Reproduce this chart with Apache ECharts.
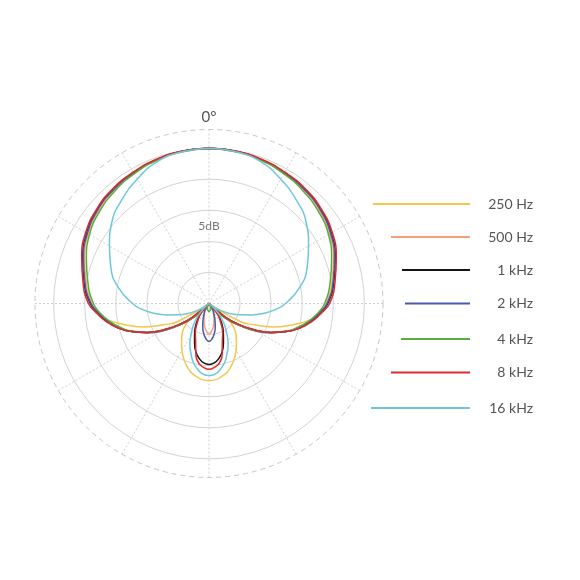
<!DOCTYPE html>
<html>
<head>
<meta charset="utf-8">
<script src="https://cdn.jsdelivr.net/npm/echarts@6/dist/echarts.min.js"></script>
<style>html,body{margin:0;padding:0;background:#fff}#chart{width:580px;height:580px}</style>
</head>
<body>
<div id="chart"></div>
<script>
// Angles (degrees, clockwise from 0° at top)
const angles = [0,10,20,30,40,50,60,70,80,90,95,100,105,110,115,120,125,130,135,140,145,150,155,160,165,170,175,180,
  185,190,195,200,205,210,215,220,225,230,235,240,245,250,255,260,265,270,280,290,300,310,320,330,340,350,360];

const seriesNames = ['250 Hz','500 Hz','1 kHz','2 kHz','4 kHz','8 kHz','16 kHz'];

// Relative level in dB (floor -25 dB at centre)
const hz250 = [0,-0.2,-0.4,-0.8,-1.2,-1.8,-2.6,-3.7,-4.9,-6.1,-6.8,-8.9,-11.5,-14.0,-16.9,-19.2,-25,-21.0,-19.2,-18.2,-17.3,-16.3,-15.3,-14.4,-13.6,-13.1,-12.7,-12.6,
  -12.7,-13.1,-13.6,-14.4,-15.3,-16.3,-17.3,-18.2,-19.2,-21.0,-25,-19.2,-16.9,-14.0,-11.5,-8.9,-6.8,-6.1,-4.9,-3.7,-2.6,-1.8,-1.2,-0.8,-0.4,-0.2,0];
const hz500 = [0,-0.1,-0.4,-0.7,-1.1,-1.7,-2.5,-3.6,-4.8,-6.1,-7.3,-8.6,-10.0,-11.8,-13.9,-16.1,-18.6,-20.8,-22.7,-24.2,-25,-23.9,-23.4,-22.7,-21.9,-21.1,-20.5,-20.1,
  -20.5,-21.1,-21.9,-22.7,-23.4,-23.9,-25,-24.2,-22.7,-20.8,-18.6,-16.1,-13.9,-11.8,-10.0,-8.6,-7.3,-6.1,-4.8,-3.6,-2.5,-1.7,-1.1,-0.7,-0.4,-0.1,0];
const khz1 = [0,-0.1,-0.4,-0.7,-1.0,-1.5,-2.3,-3.4,-4.6,-5.9,-7.1,-8.4,-9.9,-11.8,-14.0,-16.5,-19.0,-21.6,-25,-22.9,-21.8,-20.6,-19.5,-18.2,-16.9,-16.0,-15.4,-15.2,
  -15.4,-16.0,-16.9,-18.2,-19.5,-20.6,-21.8,-22.9,-25,-21.6,-19.0,-16.5,-14.0,-11.8,-9.9,-8.4,-7.1,-5.9,-4.6,-3.4,-2.3,-1.5,-1.0,-0.7,-0.4,-0.1,0];
const khz2 = [0,-0.1,-0.4,-0.7,-1.1,-1.6,-2.4,-3.5,-4.7,-6.0,-7.2,-8.5,-10.0,-11.8,-13.9,-16.1,-18.6,-20.8,-22.7,-24.2,-25,-23.7,-23.1,-22.2,-21.1,-20.1,-19.3,-18.9,
  -19.3,-20.1,-21.1,-22.2,-23.1,-23.7,-25,-24.2,-22.7,-20.8,-18.6,-16.1,-13.9,-11.8,-10.0,-8.5,-7.2,-6.0,-4.7,-3.5,-2.4,-1.6,-1.1,-0.7,-0.4,-0.1,0];
const khz4 = [0,-0.2,-0.5,-0.9,-1.4,-2.0,-2.8,-4.0,-5.2,-6.4,-7.4,-8.7,-10.2,-11.9,-14.0,-16.3,-18.7,-21.0,-22.9,-24.2,-25,-24.7,-24.5,-24.3,-24.0,-23.9,-23.8,-23.7,
  -23.8,-23.9,-24.0,-24.3,-24.5,-24.7,-25,-24.2,-22.9,-21.0,-18.7,-16.3,-14.0,-11.9,-10.2,-8.7,-7.4,-6.4,-5.2,-4.0,-2.8,-2.0,-1.4,-0.9,-0.5,-0.2,0];
const khz8 = [0,-0.1,-0.3,-0.6,-0.9,-1.4,-2.1,-3.2,-4.4,-5.6,-6.9,-8.2,-9.8,-11.8,-14.0,-16.5,-19.0,-21.5,-25,-23.1,-22.1,-21.0,-19.8,-18.7,-16.8,-15.3,-14.7,-14.4,
  -14.7,-15.3,-16.8,-18.7,-19.8,-21.0,-22.1,-23.1,-25,-21.5,-19.0,-16.5,-14.0,-11.8,-9.8,-8.2,-6.9,-5.6,-4.4,-3.2,-2.1,-1.4,-0.9,-0.6,-0.3,-0.1,0];
const khz16 = [0,-0.2,-0.7,-1.9,-3.2,-4.6,-6.5,-8.2,-10.2,-12.7,-14.2,-16.0,-17.9,-19.7,-21.1,-22.6,-23.6,-25,-23.2,-21.8,-20.5,-19.2,-17.7,-16.5,-15.2,-14.3,-13.6,-13.4,
  -13.6,-14.3,-15.2,-16.5,-17.7,-19.2,-20.5,-21.8,-23.2,-25,-23.6,-22.6,-21.1,-19.7,-17.9,-16.0,-14.2,-12.7,-10.2,-8.2,-6.5,-4.6,-3.2,-1.9,-0.7,-0.2,0];

const seriesValues = [hz250, hz500, khz1, khz2, khz4, khz8, khz16];
const seriesColors = ['#f3c64e','#f39f7c','#151515','#4c5aae','#5aad3b','#de2a2c','#6ec7da'];

// Scale annotation
const scaleLabel = '5dB';
const scaleLabelLevel = -12.5;
const topLabel = '0°';

// Layout (legend positions)
const legendCenterY = [204, 237, 270, 303.5, 339, 372.5, 408];
const legendLineStart = [372, 390, 401, 404, 400, 390, 370];
const legendLineEnd = 469;

const textColor = '#555';
const fontFamily = 'Lato, "Open Sans", sans-serif';

const chart = echarts.init(document.getElementById('chart'), null, {renderer: 'canvas'});

const lineSeries = seriesNames.map((name, i) => ({
  name: name,
  type: 'line',
  coordinateSystem: 'polar',
  data: seriesValues[i].map((v, j) => [v, angles[j]]),
  smooth: 0.5,
  symbol: 'none',
  showSymbol: false,
  clip: false,
  lineStyle: {color: seriesColors[i], width: 1.5},
  itemStyle: {color: seriesColors[i]},
  silent: true,
  z: 3 + i
}));

lineSeries.push({
  type: 'scatter',
  coordinateSystem: 'polar',
  data: [[scaleLabelLevel, 0]],
  symbolSize: 0,
  silent: true,
  z: 20,
  label: {
    show: true,
    position: 'inside',
    formatter: scaleLabel,
    color: textColor,
    fontSize: 12,
    fontFamily: fontFamily,
    backgroundColor: '#fff',
    padding: [1, 2]
  }
});

const legends = seriesNames.map((name, i) => ({
  data: [name],
  left: legendLineStart[i],
  top: legendCenterY[i] - 7,
  itemWidth: legendLineEnd - legendLineStart[i],
  itemHeight: 14,
  padding: 0,
  selectedMode: false,
  itemStyle: {opacity: 0},
  formatter: n => '{t|' + n + '}',
  textStyle: {
    color: textColor,
    fontFamily: fontFamily,
    fontSize: 14,
    rich: {t: {width: 58, align: 'right', color: textColor, fontFamily: fontFamily, fontSize: 14}}
  }
}));

chart.setOption({
  backgroundColor: '#fff',
  animation: false,
  legend: legends,
  polar: {center: [209, 303.5], radius: 174},
  angleAxis: {
    type: 'value',
    min: 0,
    max: 360,
    interval: 30,
    startAngle: 90,
    clockwise: true,
    axisLine: {show: true, lineStyle: {color: '#c6c6c6', type: [5, 4], width: 1}},
    axisTick: {show: false},
    axisLabel: {
      show: true,
      margin: 5,
      formatter: v => (v === 0 ? topLabel : ''),
      color: textColor,
      fontSize: 15,
      fontFamily: fontFamily
    },
    splitLine: {show: true, lineStyle: {color: '#cfcfcf', type: [2, 2], width: 1}}
  },
  radiusAxis: {
    type: 'value',
    min: -25,
    max: 3,
    interval: 5,
    axisLine: {show: false},
    axisTick: {show: false},
    axisLabel: {show: false},
    splitLine: {show: true, lineStyle: {color: ['#d3d3d3','#d3d3d3','#d3d3d3','#d3d3d3','#d3d3d3','#d3d3d3','rgba(0,0,0,0)'], width: 1}}
  },
  series: lineSeries
});
</script>
</body>
</html>
